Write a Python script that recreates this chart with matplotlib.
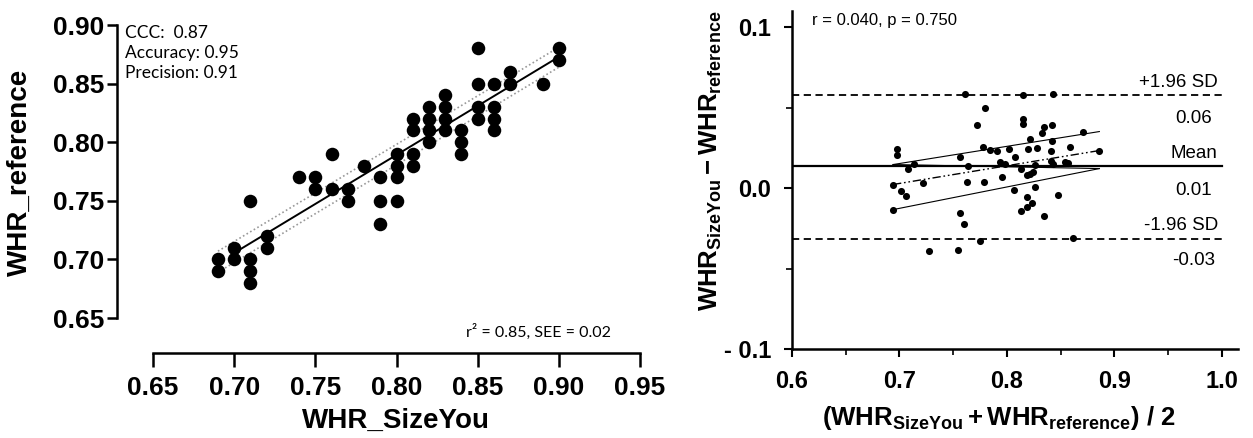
import matplotlib
matplotlib.use('Agg')
import matplotlib.pyplot as plt
from matplotlib.ticker import FixedLocator

plt.rcParams['font.family'] = 'Liberation Sans'
plt.rcParams['mathtext.fontset'] = 'custom'
plt.rcParams['mathtext.rm'] = 'Liberation Sans'
plt.rcParams['mathtext.bf'] = 'Liberation Sans:bold'
plt.rcParams['mathtext.it'] = 'Liberation Sans:italic'

# ---- left panel: WHR_SizeYou vs WHR_reference ----
size_you = [0.69, 0.69, 0.70, 0.70, 0.71, 0.71, 0.71, 0.71, 0.72, 0.72,
            0.74, 0.75, 0.75, 0.76, 0.76, 0.77, 0.77, 0.78, 0.79, 0.79, 0.79,
            0.80, 0.80, 0.80, 0.80, 0.81, 0.81, 0.81, 0.81,
            0.82, 0.82, 0.82, 0.82, 0.83, 0.83, 0.83, 0.83,
            0.84, 0.84, 0.84, 0.85, 0.85, 0.85, 0.85,
            0.86, 0.86, 0.86, 0.86, 0.87, 0.87, 0.89, 0.90, 0.90]
reference = [0.70, 0.69, 0.71, 0.70, 0.70, 0.69, 0.68, 0.75, 0.72, 0.71,
             0.77, 0.77, 0.76, 0.76, 0.79, 0.76, 0.75, 0.78, 0.77, 0.75, 0.73,
             0.79, 0.78, 0.77, 0.75, 0.79, 0.78, 0.82, 0.81,
             0.83, 0.82, 0.81, 0.80, 0.84, 0.83, 0.82, 0.81,
             0.81, 0.80, 0.79, 0.88, 0.85, 0.83, 0.82,
             0.85, 0.83, 0.82, 0.81, 0.86, 0.85, 0.85, 0.88, 0.87]
fit_x = [0.70, 0.90]
fit_y = [0.7055, 0.8728]
band_x = [0.69, 0.90]
band_hi = [0.707, 0.881]
band_lo = [0.689, 0.864]
left_xticks = [0.65, 0.70, 0.75, 0.80, 0.85, 0.90, 0.95]
left_yticks = [0.65, 0.70, 0.75, 0.80, 0.85, 0.90]
stats_text = ['CCC:  0.87', 'Accuracy: 0.95', 'Precision: 0.91']
fit_text = 'r\u00b2 = 0.85, SEE = 0.02'

# ---- right panel: Bland-Altman ----
ba_mean = [0.6974, 0.698, 0.7138, 0.7076, 0.761, 0.7795, 0.7718, 0.8152, 0.8146, 0.8152,
           0.8425, 0.8344, 0.8323, 0.8416, 0.8215, 0.8416, 0.871, 0.8586, 0.8859, 0.7563,
           0.7774, 0.7842, 0.791, 0.8022, 0.8075, 0.8198, 0.8277, 0.841, 0.7935, 0.7981,
           0.813, 0.826, 0.8244, 0.841, 0.8425, 0.854, 0.857, 0.7634, 0.8214, 0.819,
           0.6937, 0.7221, 0.7625, 0.7789, 0.7956, 0.7013, 0.7057, 0.8065, 0.826, 0.8189,
           0.8477, 0.6937, 0.7563, 0.7603, 0.823, 0.8189, 0.8127, 0.8344, 0.7749, 0.8611,
           0.7277, 0.7547]
ba_diff = [0.0243, 0.0208, 0.0150, 0.0119, 0.0585, 0.0496, 0.0394, 0.0579, 0.0430, 0.0399,
           0.0585, 0.0382, 0.0343, 0.0390, 0.0306, 0.0291, 0.0351, 0.0258, 0.0233, 0.0191,
           0.0253, 0.0239, 0.0233, 0.0243, 0.0196, 0.0243, 0.0247, 0.0233, 0.0160, 0.0150,
           0.0119, 0.0146, 0.0098, 0.0171, 0.0150, 0.0160, 0.0154, 0.0138, 0.0088, 0.0078,
           0.0020, 0.0030, 0.0036, 0.0036, 0.0067, -0.0016, -0.0047, -0.0011, 0.0009, -0.0057,
           -0.0042, -0.0135, -0.0157, -0.0222, -0.0094, -0.0115, -0.0144, -0.0175, -0.0332, -0.0312,
           -0.0394, -0.0388]
mean_bias = 0.0134
upper_loa = 0.0575
lower_loa = -0.0314
trend_x = [0.694, 0.886]
trend_y = [0.0022, 0.0233]
ci_upper = [0.0146, 0.0351]
ci_lower = [-0.0134, 0.0121]
ci_cross = [0.0146, 0.0121]
corr_text = 'r = 0.040, p = 0.750'

W, H = 1253, 438
fig = plt.figure(figsize=(W / 100, H / 100), dpi=100)

# left axes
ax1 = fig.add_axes([153 / W, 1 - 318 / H, 487 / W, 293 / H])
ax1.scatter(size_you, reference, s=95, color='black', zorder=3, linewidths=0)
ax1.plot(fit_x, fit_y, color='black', lw=1.4, zorder=2)
ax1.plot(band_x, band_hi, color='#999999', lw=1.2, ls=(0, (1, 1.5)), zorder=2)
ax1.plot(band_x, band_lo, color='#999999', lw=1.2, ls=(0, (1, 1.5)), zorder=2)
ax1.set_xlim(0.65, 0.95)
ax1.set_ylim(0.65, 0.90)
for side in ['top', 'right']:
    ax1.spines[side].set_visible(False)
ax1.spines['left'].set_position(('outward', 26))
ax1.spines['bottom'].set_position(('outward', 25))
for side in ['left', 'bottom']:
    ax1.spines[side].set_linewidth(1.8)
ax1.set_xticks(left_xticks)
ax1.set_yticks(left_yticks)
ax1.set_xticklabels(['%.2f' % v for v in left_xticks])
ax1.set_yticklabels(['%.2f' % v for v in left_yticks])
ax1.tick_params(axis='x', length=10, width=1.8, pad=7, labelsize=19)
ax1.tick_params(axis='y', length=7, width=1.8, pad=2, labelsize=19)
for lab in ax1.get_xticklabels() + ax1.get_yticklabels():
    lab.set_fontweight('bold')
ax1.text(-0.058, 1.0, '\n'.join(stats_text), transform=ax1.transAxes, ha='left', va='top',
         fontsize=12.5, family='Lato', linespacing=1.3)
ax1.text(0.94, -0.048, fit_text, transform=ax1.transAxes, ha='right', va='center',
         fontsize=11.5, family='Lato')
fig.text(20 / W, 1 - 172 / H, 'WHR_reference', rotation=90, ha='center', va='center',
         fontsize=20, fontweight='bold')
fig.text(396 / W, 1 - 421 / H, 'WHR_SizeYou', ha='center', va='center',
         fontsize=20, fontweight='bold')

# right axes
ax2 = fig.add_axes([792 / W, 1 - 349 / H, 446 / W, 338 / H])
ax2.set_xlim(0.6, 1.015)
ax2.set_ylim(-0.1, 0.11)
ax2.axhline(mean_bias, xmin=0, xmax=0.4 / 0.415, color='black', lw=1.6)
ax2.axhline(upper_loa, xmin=0, xmax=0.4 / 0.415, color='black', lw=1.3, ls=(0, (4, 2.5)))
ax2.axhline(lower_loa, xmin=0, xmax=0.4 / 0.415, color='black', lw=1.3, ls=(0, (4, 2.5)))
ax2.plot(trend_x, trend_y, color='black', lw=1.0, ls=(0, (6, 2, 1.2, 2, 1.2, 2)))
ax2.plot(trend_x, ci_upper, color='black', lw=0.8)
ax2.plot(trend_x, ci_lower, color='black', lw=0.8)
ax2.plot(trend_x, ci_cross, color='black', lw=0.8)
ax2.scatter(ba_mean, ba_diff, s=26, color='black', zorder=3, linewidths=0)
for side in ['top', 'right']:
    ax2.spines[side].set_visible(False)
for side in ['left', 'bottom']:
    ax2.spines[side].set_linewidth(1.8)
ax2.xaxis.set_major_locator(FixedLocator([0.6, 0.7, 0.8, 0.9, 1.0]))
ax2.xaxis.set_minor_locator(FixedLocator([0.65, 0.75, 0.85, 0.95]))
ax2.set_xticklabels(['0.6', '0.7', '0.8', '0.9', '1.0'])
ax2.yaxis.set_major_locator(FixedLocator([-0.1, 0.0, 0.1]))
ax2.yaxis.set_minor_locator(FixedLocator([-0.05, 0.05]))
ax2.set_yticklabels(['- 0.1', '0.0', '0.1'])
ax2.tick_params(which='major', length=6, width=1.5, labelsize=17, pad=9)
ax2.tick_params(which='minor', length=4, width=1.2)
for lab in ax2.get_xticklabels() + ax2.get_yticklabels():
    lab.set_fontweight('bold')

lab_sd_x = 0.9963
lab_num_x = 0.974
ax2.annotate('+1.96 SD', (lab_sd_x, upper_loa), xytext=(0, 9.5), textcoords='offset points',
             ha='right', va='center', fontsize=13.5)
ax2.annotate('%.2f' % 0.06, (lab_num_x, upper_loa), xytext=(0, -16.5), textcoords='offset points',
             ha='center', va='center', fontsize=13.5)
ax2.annotate('Mean', (lab_num_x, mean_bias), xytext=(0, 9), textcoords='offset points',
             ha='center', va='center', fontsize=13.5)
ax2.annotate('%.2f' % 0.01, (lab_num_x, mean_bias), xytext=(0, -17), textcoords='offset points',
             ha='center', va='center', fontsize=13.5)
ax2.annotate('-1.96 SD', (lab_sd_x, lower_loa), xytext=(0, 9.5), textcoords='offset points',
             ha='right', va='center', fontsize=13.5)
ax2.annotate('%.2f' % -0.03, (lab_num_x, lower_loa), xytext=(0, -16), textcoords='offset points',
             ha='center', va='center', fontsize=13.5)
ax2.text(812 / W, 1 - 20 / H, corr_text, transform=fig.transFigure, ha='left', va='center',
         fontsize=12)

fig.text(711 / W, 1 - 161 / H, r'$\mathbf{WHR_{SizeYou}-WHR_{reference}}$', rotation=90,
         ha='center', va='center', fontsize=18.5)
fig.text(999 / W, 1 - 418 / H, r'$\mathbf{(WHR_{SizeYou}+WHR_{reference})\ /\ 2}$',
         ha='center', va='center', fontsize=18.5)

fig.savefig('out.png', dpi=100)
